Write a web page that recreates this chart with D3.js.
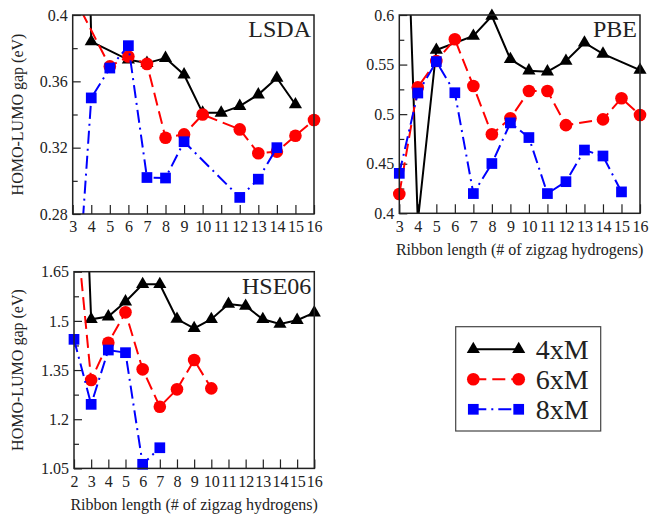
<!DOCTYPE html>
<html>
<head>
<meta charset="utf-8">
<script src="https://cdn.jsdelivr.net/npm/d3@7"></script>
<style>
  body { margin: 0; background: #fff; }
  text { font-family: "Liberation Serif", "Times New Roman", serif; fill: #222; }
  .tick text { font-size: 16px; }
  .tick line { stroke: #222; stroke-width: 1.2; }
</style>
</head>
<body>
<script>
// ribbon lengths per panel
var lenLsda = [3, 4, 5, 6, 7, 8, 9, 10, 11, 12, 13, 14, 15, 16];
var lenPbe = [3, 4, 5, 6, 7, 8, 9, 10, 11, 12, 13, 14, 15, 16];
var lenHse = [2, 3, 4, 5, 6, 7, 8, 9, 10, 11, 12, 13, 14, 15, 16];

// HOMO-LUMO gaps (eV), null = no point
var lsda4xM = [0.9, 0.384, null, 0.373, 0.371, 0.374, 0.364, 0.341, 0.341, 0.345, 0.352, 0.362, 0.346, null];
var lsda6xM = [0.4125, null, 0.369, 0.375, 0.3705, 0.326, 0.328, 0.340, null, 0.331, 0.3166, 0.3176, 0.3272, 0.3367];
var lsda8xM = [0.187, 0.350, 0.368, 0.3815, 0.302, 0.3017, 0.3236, null, null, 0.290, 0.301, 0.320, null, null];

var pbe4xM = [0.934, 0.392, 0.5647, null, 0.5788, 0.599, 0.5553, 0.5438, 0.5428, 0.5536, 0.572, 0.5607, null, 0.5445];
var pbe6xM = [0.4195, 0.527, 0.5536, 0.5755, 0.5284, 0.4797, 0.4958, 0.5233, 0.5233, 0.4889, null, 0.4947, 0.516, 0.4992];
var pbe8xM = [0.4403, 0.5213, 0.553, 0.5216, 0.4199, 0.4502, 0.4912, 0.4764, 0.4199, 0.4319, 0.4638, 0.4578, 0.4216, null];

var hse4xM = [2.83, 1.505, 1.513, 1.5585, 1.6115, 1.6115, 1.5057, 1.4773, 1.505, 1.5515, 1.5454, 1.505, 1.4904, 1.502, 1.525];
var hse6xM = [1.861, 1.3196, 1.4334, 1.5261, 1.3522, 1.2382, 1.2912, 1.3806, 1.2942, null, null, null, null, null, null];
var hse8xM = [1.4437, 1.2454, 1.4111, 1.403, 1.0625, 1.113, null, null, null, null, null, null, null, null, null];

// tick labels
var lsdaTicks = ["0.28", "0.32", "0.36", "0.4"];
var pbeTicks = ["0.4", "0.45", "0.5", "0.55", "0.6"];
var hseTicks = ["1.05", "1.2", "1.35", "1.5", "1.65"];

var seriesNames = ["4xM", "6xM", "8xM"];
var colors = ["#000000", "#ff0000", "#0000ff"];
var dashes = [null, "13,6", "13,5,2,5"];
var symbols = [d3.symbolTriangle, d3.symbolCircle, d3.symbolSquare];
var symSizes = [75, 125, 115];

var svg = d3.select("body").append("svg").attr("width", 649).attr("height", 516);

function panel(opt) {
  var g = svg.append("g").attr("transform", "translate(" + opt.left + "," + opt.top + ")");
  var x = d3.scaleLinear().domain(d3.extent(opt.len)).range([0, opt.w]);
  var yDom = [+opt.ticks[0], +opt.ticks[opt.ticks.length - 1]];
  var y = d3.scaleLinear().domain(yDom).range([opt.h, 0]);
  var step = (+opt.ticks[1]) - (+opt.ticks[0]);
  var minors = opt.ticks.slice(0, -1).map(function (t) { return +t + step / 2; });

  var cid = "clip" + opt.name;
  g.append("clipPath").attr("id", cid).append("rect")
    .attr("width", opt.w).attr("height", opt.h);

  // axes, ticks pointing inward
  g.append("g").attr("transform", "translate(0," + opt.h + ")")
    .call(d3.axisBottom(x).tickValues(opt.len).tickSize(-9).tickPadding(7).tickFormat(d3.format("d")))
    .call(function (a) { a.select(".domain").remove(); });
  g.append("g")
    .call(d3.axisLeft(y).tickValues(opt.ticks.map(Number)).tickSize(-8).tickPadding(5)
      .tickFormat(function (d, i) { return opt.ticks[i]; }))
    .call(function (a) { a.select(".domain").remove(); });
  g.append("g")
    .call(d3.axisLeft(y).tickValues(minors).tickSize(-5).tickFormat(""))
    .call(function (a) { a.select(".domain").remove(); });

  opt.series.forEach(function (vals, k) {
    var pts = opt.len.map(function (l, i) { return [l, vals[i]]; })
      .filter(function (p) { return p[1] !== null; });
    g.append("path")
      .datum(pts)
      .attr("clip-path", "url(#" + cid + ")")
      .attr("fill", "none")
      .attr("stroke", colors[k])
      .attr("stroke-width", 2)
      .attr("stroke-dasharray", dashes[k])
      .attr("d", d3.line().x(function (p) { return x(p[0]); }).y(function (p) { return y(p[1]); }));
    g.selectAll("path.m" + k)
      .data(pts.filter(function (p) { return p[1] >= yDom[0] && p[1] <= yDom[1]; }))
      .enter().append("path")
      .attr("class", "m" + k)
      .attr("transform", function (p) { return "translate(" + x(p[0]) + "," + y(p[1]) + ")"; })
      .attr("fill", colors[k])
      .attr("d", d3.symbol().type(symbols[k]).size(symSizes[k]));
  });

  g.append("rect").attr("width", opt.w).attr("height", opt.h)
    .attr("fill", "none").attr("stroke", "#222").attr("stroke-width", 1.5);

  g.append("text").attr("x", opt.w - 3).attr("y", 22)
    .attr("text-anchor", "end").attr("font-size", 24).text(opt.name);

  if (opt.ytitle) {
    g.append("text")
      .attr("transform", "translate(" + (23 - opt.left) + "," + (opt.h / 2) + ") rotate(-90)")
      .attr("text-anchor", "middle").attr("font-size", 16)
      .text("HOMO-LUMO gap (eV)");
  }
  if (opt.xtitle) {
    g.append("text").attr("x", opt.w / 2).attr("y", opt.h + 42)
      .attr("text-anchor", "middle").attr("font-size", 16)
      .text("Ribbon length (# of zigzag hydrogens)");
  }
}

panel({ name: "LSDA", left: 72.7, top: 15, w: 241.3, h: 199, len: lenLsda,
  series: [lsda4xM, lsda6xM, lsda8xM], ticks: lsdaTicks, ytitle: true, xtitle: false });
panel({ name: "PBE", left: 399.3, top: 15, w: 240.7, h: 198.3, len: lenPbe,
  series: [pbe4xM, pbe6xM, pbe8xM], ticks: pbeTicks, ytitle: false, xtitle: true });
panel({ name: "HSE06", left: 74, top: 271.7, w: 240.3, h: 196.7, len: lenHse,
  series: [hse4xM, hse6xM, hse8xM], ticks: hseTicks, ytitle: true, xtitle: true });

// legend
var lg = svg.append("g").attr("transform", "translate(455.7,326.7)");
lg.append("rect").attr("width", 145).attr("height", 104.3)
  .attr("fill", "none").attr("stroke", "#444").attr("stroke-width", 1.2);
var rows = lg.selectAll("g.row").data(seriesNames).enter().append("g")
  .attr("class", "row")
  .attr("transform", function (d, i) { return "translate(0," + (22.6 + i * 30) + ")"; });
rows.append("line").attr("x1", 17.6).attr("x2", 63)
  .attr("stroke", function (d, i) { return colors[i]; })
  .attr("stroke-width", 2)
  .attr("stroke-dasharray", function (d, i) { return dashes[i]; });
[17.6, 63].forEach(function (cx) {
  rows.append("path")
    .attr("transform", "translate(" + cx + ",0)")
    .attr("fill", function (d, i) { return colors[i]; })
    .attr("d", function (d, i) { return d3.symbol().type(symbols[i]).size(symSizes[i])(); });
});
rows.append("text").attr("x", 80).attr("dy", "0.35em")
  .attr("font-size", 28).text(function (d) { return d; });
</script>
</body>
</html>
